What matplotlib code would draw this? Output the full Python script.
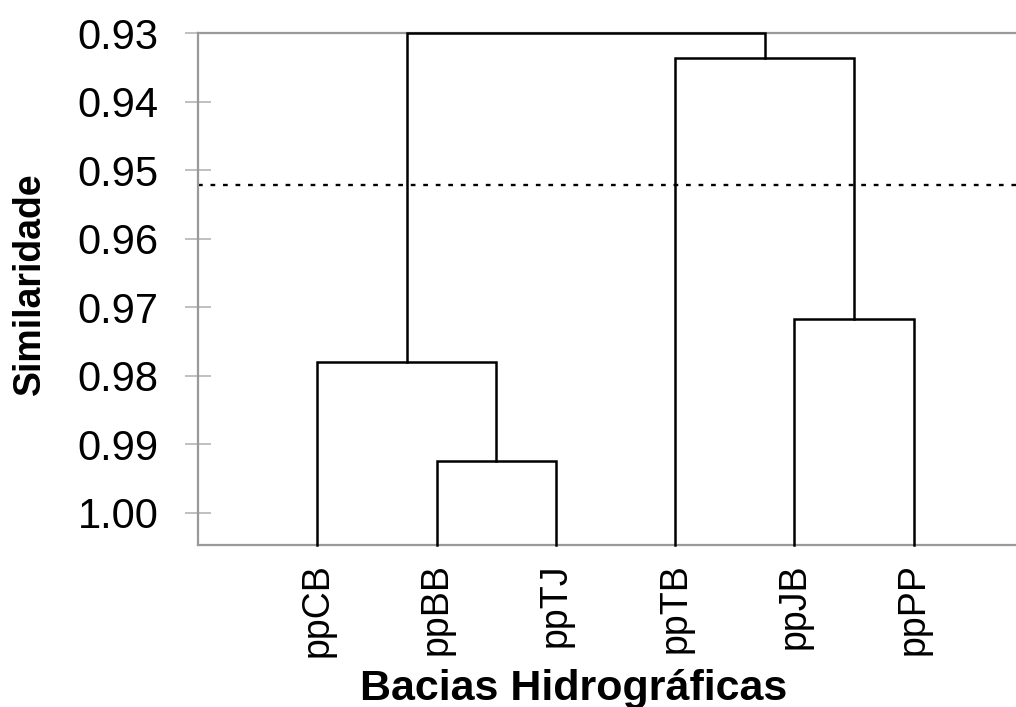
import matplotlib
matplotlib.use("Agg")
from matplotlib import pyplot as plt

plt.rcParams['font.family'] = ['Liberation Sans', 'DejaVu Sans']

# leaves in plotted order
leaves = ["ppCB", "ppBB", "ppTJ", "ppTB", "ppJB", "ppPP"]
# merges: (left child, right child, similarity level); children index leaves or earlier merges (6+i)
merge_a = [1, 4, 0, 3, 8]
merge_b = [2, 5, 6, 7, 9]
merge_h = [0.9924, 0.9717, 0.9780, 0.9337, 0.9300]
cut_level = 0.9522
yticks = [0.93, 0.94, 0.95, 0.96, 0.97, 0.98, 0.99, 1.00]

fig = plt.figure(figsize=(10.16, 7.07), dpi=100)
ax = fig.add_axes([0.195, 0.229, 0.81, 0.7243])

base = 1.0047
xs = [i + 1 for i in range(len(leaves))]
ys = [base] * len(leaves)
for a, b, h in zip(merge_a, merge_b, merge_h):
    ax.plot([xs[a], xs[a], xs[b], xs[b]], [ys[a], h, h, ys[b]],
            color='black', lw=1.8, solid_joinstyle='miter', clip_on=False, zorder=3)
    xs.append((xs[a] + xs[b]) / 2)
    ys.append(h)

ax.axhline(cut_level, color='black', lw=1.7, linestyle=(0, (2, 3.3)), zorder=2)

ax.set_xlim(0, 6.9)
ax.set_ylim(base, 0.93)
ax.set_yticks(yticks)
ax.set_yticklabels(["%.2f" % v for v in yticks], fontsize=30)
ax.set_xticks(range(1, len(leaves) + 1))
ax.set_xticklabels(leaves, rotation=90, fontsize=27)
ax.tick_params(axis='y', direction='inout', length=19, width=1.3, color='#bbbbbb', pad=19)
ax.tick_params(axis='x', length=0, pad=13)

for s in ['left', 'bottom', 'top']:
    ax.spines[s].set_color('#999999')
    ax.spines[s].set_linewidth(1.6)
ax.spines['right'].set_visible(False)

ax.set_ylabel("Similaridade", fontsize=27, fontweight='bold')
ax.yaxis.set_label_coords(-0.183, 0.51)
ax.set_xlabel("Bacias Hidrográficas", fontsize=31, fontweight='bold')
ax.xaxis.set_label_coords(0.456, -0.242)

fig.savefig("out.png", dpi=100)
